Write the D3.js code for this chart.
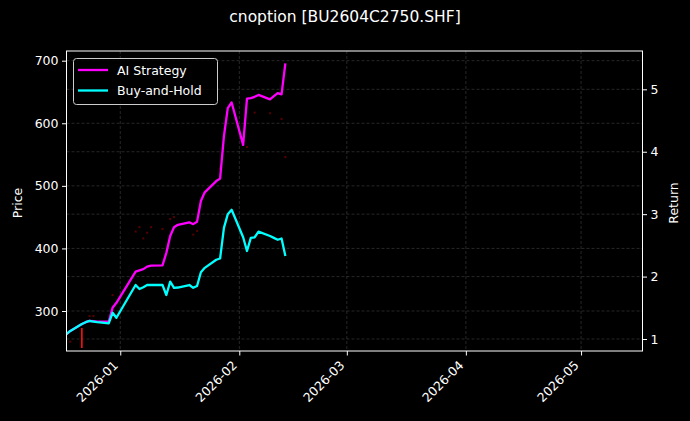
<!DOCTYPE html>
<html>
<head>
<meta charset="utf-8">
<script src="https://cdn.jsdelivr.net/npm/d3@7"></script>
<style>
  html, body { margin: 0; padding: 0; background: #000; }
  svg { display: block; font-family: "DejaVu Sans", sans-serif; }
</style>
</head>
<body>
<svg id="chart" width="690" height="421"></svg>
<script>
// ---------- data ----------
const dates = ["2025-12-18","2025-12-19","2025-12-22","2025-12-23","2025-12-24","2025-12-25","2025-12-26",
  "2025-12-29","2025-12-30","2025-12-31","2026-01-05","2026-01-06","2026-01-07","2026-01-08","2026-01-09",
  "2026-01-12","2026-01-13","2026-01-14","2026-01-15","2026-01-16","2026-01-19","2026-01-20","2026-01-21",
  "2026-01-22","2026-01-23","2026-01-26","2026-01-27","2026-01-28","2026-01-29","2026-01-30","2026-02-02",
  "2026-02-03","2026-02-04","2026-02-05","2026-02-06","2026-02-09","2026-02-10","2026-02-11","2026-02-12",
  "2026-02-13"];
const aiStrategy = [1.08,1.13,1.24,1.27,1.29,1.285,1.28,1.28,1.50,1.58,2.08,2.10,2.12,2.16,2.175,
  2.18,2.38,2.65,2.79,2.83,2.87,2.84,2.88,3.21,3.35,3.53,3.57,4.25,4.70,4.79,4.11,
  4.85,4.86,4.88,4.91,4.84,4.89,4.94,4.92,5.415];
const buyAndHold = [1.08,1.13,1.24,1.27,1.29,1.28,1.27,1.25,1.42,1.34,1.865,1.80,1.83,1.865,1.865,
  1.865,1.705,1.92,1.82,1.825,1.865,1.82,1.85,2.07,2.14,2.27,2.29,2.78,3.00,3.07,2.63,
  2.41,2.62,2.63,2.72,2.65,2.62,2.59,2.61,2.33];

const candleDates = ["2025-12-19","2025-12-22","2025-12-24","2025-12-25","2025-12-30","2026-01-05","2026-01-06",
  "2026-01-07","2026-01-08","2026-01-09","2026-01-12","2026-01-14","2026-01-15","2026-01-20","2026-01-21",
  "2026-01-27","2026-02-03","2026-02-05","2026-02-09","2026-02-12","2026-02-13"];
const candleHigh = [251.5,273,292.5,292.5,326,427.5,434.5,416.5,425.5,434.5,431.5,447.5,450.5,422.5,428.5,
  528.5,562.5,617.5,616.5,607.5,546.5];
const candleLow  = [250.5,241,291.5,291.5,325,426.5,433.5,415.5,424.5,433.5,430.5,446.5,449.5,421.5,427.5,
  527.5,561.5,616.5,615.5,606.5,545.5];

const priceTicks = [300,400,500,600,700];
const returnTicks = [1,2,3,4,5];
const monthTicks = ["2026-01-01","2026-02-01","2026-03-01","2026-04-01","2026-05-01"];
const xDomain = ["2025-12-18","2026-05-17"];
const priceDomain = [236.1, 715.5];
const returnDomain = [0.808, 5.614];
const seriesNames = ["AI Strategy","Buy-and-Hold"];
const seriesColors = ["#ff00ff","#00ffff"];
const title = "cnoption [BU2604C2750.SHF]";

// ---------- layout ----------
const parse = d3.utcParse("%Y-%m-%d");
const L = 66.5, R = 642.5, T = 51, B = 351;
const svg = d3.select("#chart");
svg.append("rect").attr("width",690).attr("height",421).attr("fill","#000");

const x = d3.scaleUtc().domain(xDomain.map(parse)).range([L,R]);
const yP = d3.scaleLinear().domain(priceDomain).range([B,T]);
const yR = d3.scaleLinear().domain(returnDomain).range([B,T]);

svg.append("defs").append("clipPath").attr("id","clip")
  .append("rect").attr("x",L).attr("y",T).attr("width",R-L).attr("height",B-T);

// grid
const grid = svg.append("g").attr("stroke","#777").attr("stroke-opacity",0.55)
  .attr("stroke-width",0.6).attr("stroke-dasharray","3,2");
monthTicks.forEach(m => grid.append("line").attr("x1",x(parse(m))).attr("x2",x(parse(m))).attr("y1",T).attr("y2",B));
priceTicks.forEach(p => grid.append("line").attr("x1",L).attr("x2",R).attr("y1",yP(p)).attr("y2",yP(p)));
returnTicks.forEach(r => grid.append("line").attr("x1",L).attr("x2",R).attr("y1",yR(r)).attr("y2",yR(r)));

// candles
const plot = svg.append("g").attr("clip-path","url(#clip)");
candleDates.forEach((d,i) => {
  const cx = x(parse(d));
  const y1 = yP(candleHigh[i]), y2 = yP(candleLow[i]);
  const h = y2 - y1;
  if (h >= 3) {
    plot.append("line").attr("x1",cx).attr("x2",cx).attr("y1",y1).attr("y2",y2)
      .attr("stroke","#ff1010").attr("stroke-width",1.6);
  } else {
    plot.append("rect").attr("x",cx-1).attr("y",(y1+y2)/2-1).attr("width",2).attr("height",2)
      .attr("fill","#ff0000").attr("opacity",0.35);
  }
});

// lines
const line = d3.line().x((d,i) => x(parse(dates[i]))).y(d => yR(d));
[aiStrategy, buyAndHold].forEach((s,k) => {
  plot.append("path").attr("d", line(s)).attr("fill","none")
    .attr("stroke", seriesColors[k]).attr("stroke-width",2.3).attr("stroke-linejoin","round");
});

// spines
svg.append("rect").attr("x",L).attr("y",T).attr("width",R-L).attr("height",B-T)
  .attr("fill","none").attr("stroke","#fff").attr("stroke-width",1);

// axes
const fs = 12.5;
const axL = svg.append("g").attr("transform",`translate(${L},0)`)
  .call(d3.axisLeft(yP).tickValues(priceTicks).tickSize(4.5).tickPadding(3.5).tickFormat(d3.format("d")));
const axR = svg.append("g").attr("transform",`translate(${R},0)`)
  .call(d3.axisRight(yR).tickValues(returnTicks).tickSize(4.5).tickPadding(3.5).tickFormat(d3.format("d")));
const axB = svg.append("g").attr("transform",`translate(0,${B})`)
  .call(d3.axisBottom(x).tickValues(monthTicks.map(parse)).tickSize(4.5).tickFormat(d3.utcFormat("%Y-%m")));
[axL, axR, axB].forEach(a => {
  a.select(".domain").remove();
  a.selectAll(".tick line").attr("stroke","#fff");
  a.selectAll("text").attr("fill","#fff").attr("font-size",fs).attr("font-family","DejaVu Sans");
});
axB.selectAll(".tick text")
  .attr("text-anchor","end").attr("dy",null).attr("y",null)
  .attr("transform","translate(-2,15) rotate(-45)");

// labels
svg.append("text").attr("transform",`translate(22,${(T+B)/2 + 2}) rotate(-90)`)
  .attr("text-anchor","middle").attr("fill","#fff").attr("font-size",fs).text("Price");
svg.append("text").attr("transform",`translate(678,${(T+B)/2 + 2}) rotate(-90)`)
  .attr("text-anchor","middle").attr("fill","#fff").attr("font-size",fs).text("Return");
svg.append("text").attr("x",345).attr("y",22).attr("text-anchor","middle")
  .attr("fill","#fff").attr("font-size",15.5).text(title);

// legend
const lg = svg.append("g");
lg.append("rect").attr("x",73.5).attr("y",58.5).attr("width",144).attr("height",46).attr("rx",3)
  .attr("fill","#000").attr("fill-opacity",0.8).attr("stroke","#ccc").attr("stroke-width",1);
seriesNames.forEach((n,k) => {
  const yy = 70 + k*20.5;
  lg.append("line").attr("x1",78).attr("x2",108).attr("y1",yy).attr("y2",yy)
    .attr("stroke",seriesColors[k]).attr("stroke-width",2.3);
  lg.append("text").attr("x",117).attr("y",yy+4.5).attr("fill","#fff").attr("font-size",fs).text(n);
});
</script>
</body>
</html>
